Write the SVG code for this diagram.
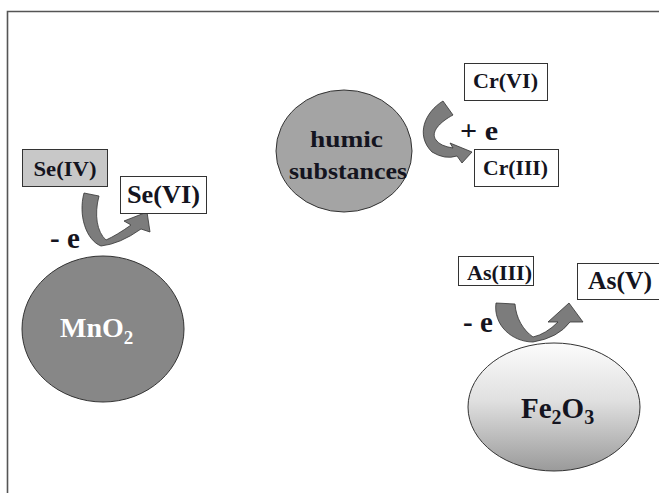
<svg xmlns="http://www.w3.org/2000/svg" width="659" height="493" viewBox="0 0 659 493">
<defs>
<linearGradient id="feg" x1="0" y1="0" x2="0" y2="1">
<stop offset="0" stop-color="#fcfcfc"/>
<stop offset="0.45" stop-color="#e0e0e0"/>
<stop offset="1" stop-color="#9a9a9a"/>
</linearGradient>
<style>
.t{font-family:"Liberation Serif","Times New Roman",serif;font-weight:bold;fill:#141420}
.box{fill:#fff;stroke:#333;stroke-width:1}
.arr{fill:#7c7c7c;stroke:#333;stroke-width:0.8;stroke-linejoin:round}
.ell{stroke:#333;stroke-width:1}
</style>
</defs>
<rect width="659" height="493" fill="#fff"/>
<path d="M7.5 493 V11.5 H659" fill="none" stroke="#555" stroke-width="1.6"/>

<g id="connectors">
<path class="arr" d="M84 193 C78 215 86 240 101 246 Q120 244 141 229 L150 232 L147 212 L124 221 L131 225 Q117 235 106 240 C97 232 94 215 99 196 Z"/>
<path class="arr" d="M443 101 C425 112 415 135 432 152 Q445 160 457 156 L462 163 L472 152 L450 143 L453 148 Q440 146 436 140 C430 132 440 122 453 115 Z"/>
<path class="arr" d="M496 303 C493 325 512 342 533 342 Q558 338 570 322 L583 322 L569 303 L548 322 L558 322 Q546 334 533 337 C523 330 516 318 515 304 Z"/>
</g>

<g id="se-iv">
<rect x="22.5" y="149.5" width="85" height="37" fill="#c8c8c8" stroke="#333"/>
<text class="t" x="65" y="176" font-size="21" text-anchor="middle" textLength="63" lengthAdjust="spacingAndGlyphs">Se(IV)</text>
</g>
<g id="se-vi">
<rect class="box" x="120.5" y="176.5" width="86" height="37"/>
<text class="t" x="163.5" y="203" font-size="25" text-anchor="middle" textLength="73" lengthAdjust="spacingAndGlyphs">Se(VI)</text>
</g>
<g id="se-minus-e">
<text class="t" x="50" y="248" font-size="29">- e</text>
</g>
<g id="mno2">
<ellipse class="ell" cx="103" cy="329" rx="81" ry="73" fill="#878787"/>
<text class="t" x="60" y="337" font-size="28" style="fill:#fff">MnO<tspan font-size="19" dy="7">2</tspan></text>
</g>

<g id="humic">
<ellipse class="ell" cx="344" cy="151" rx="68" ry="61" fill="#a4a4a4"/>
<text class="t" x="346.5" y="147" font-size="23" text-anchor="middle" textLength="73" lengthAdjust="spacingAndGlyphs">humic</text>
<text class="t" x="348" y="179" font-size="23" text-anchor="middle" textLength="118" lengthAdjust="spacingAndGlyphs">substances</text>
</g>
<g id="cr-vi">
<rect class="box" x="464.5" y="63.5" width="83" height="37"/>
<text class="t" x="505.5" y="88" font-size="21" text-anchor="middle" textLength="65" lengthAdjust="spacingAndGlyphs">Cr(VI)</text>
</g>
<g id="cr-plus-e">
<text class="t" x="460" y="140" font-size="28" textLength="38" lengthAdjust="spacingAndGlyphs">+ e</text>
</g>
<g id="cr-iii">
<rect class="box" x="474.5" y="149.5" width="84" height="37"/>
<text class="t" x="515.5" y="175" font-size="21" text-anchor="middle" textLength="65" lengthAdjust="spacingAndGlyphs">Cr(III)</text>
</g>

<g id="as-iii">
<rect class="box" x="458.5" y="256.5" width="75" height="29"/>
<text class="t" x="499.5" y="280" font-size="22" text-anchor="middle" textLength="65" lengthAdjust="spacingAndGlyphs">As(III)</text>
</g>
<g id="as-v">
<rect class="box" x="577.5" y="263.5" width="90" height="36"/>
<text class="t" x="588" y="289" font-size="25" textLength="64" lengthAdjust="spacingAndGlyphs">As(V)</text>
</g>
<g id="as-minus-e">
<text class="t" x="463" y="332" font-size="29">- e</text>
</g>
<g id="fe2o3">
<ellipse class="ell" cx="554" cy="407" rx="86" ry="64" fill="url(#feg)"/>
<text class="t" x="521" y="418" font-size="29">Fe<tspan font-size="20" dy="6">2</tspan><tspan dy="-6">O</tspan><tspan font-size="20" dy="6">3</tspan></text>
</g>
</svg>
